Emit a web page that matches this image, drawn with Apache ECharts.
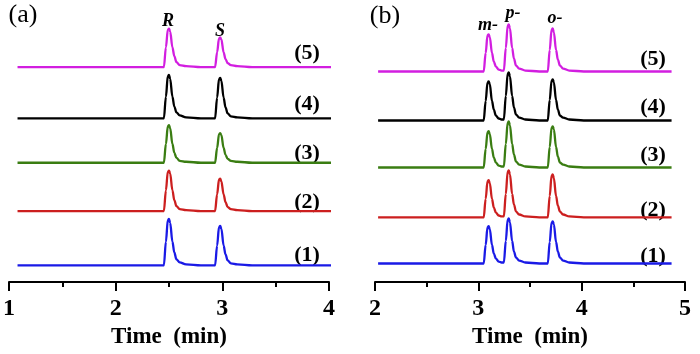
<!DOCTYPE html>
<html>
<head>
<meta charset="utf-8">
<script src="https://cdn.jsdelivr.net/npm/echarts@6/dist/echarts.min.js"></script>
<style>
  html, body { margin: 0; padding: 0; background: #fff; }
  #main { width: 700px; height: 354px; }
</style>
</head>
<body>
<div id="main"></div>
<script>
// panel (a): retention times (min), shared by all traces
var timeA = [1.08,
  2.452, 2.471, 2.489, 2.50, 2.511, 2.532, 2.55, 2.57, 2.6, 2.66, 2.8,
  2.932, 2.951, 2.969, 2.98, 2.991, 3.012, 3.03, 3.05, 3.08, 3.14, 3.28,
  4.02];
// detector signal for traces (1)..(5), R and S peaks
var sigA1 = [0, 0,24,46,47,43,24,13,6,3,1,0, 0,20,39,40,37,20,11,5,2,1,0, 0];
var sigA2 = [0, 0,21,40,41,38,21,11,5,2,1,0, 0,17,32,33,30,17,9,4,2,1,0, 0];
var sigA3 = [0, 0,19,37,38,35,19,10,5,2,1,0, 0,15,29,30,28,15,8,4,2,1,0, 0];
var sigA4 = [0, 0,22,43,44,40,22,12,6,3,1,0, 0,21,40,41,38,21,11,5,2,1,0, 0];
var sigA5 = [0, 0,20,38,39,36,20,11,5,2,1,0, 0,15,29,30,28,15,8,4,2,1,0, 0];

// panel (b): m-, p-, o- peaks
var timeB = [2.03,
  3.052, 3.071, 3.089, 3.10, 3.111, 3.132, 3.15, 3.17, 3.197, 3.225,
  3.247, 3.266, 3.284, 3.295, 3.306, 3.327, 3.345, 3.365, 3.395, 3.455, 3.59,
  3.672, 3.691, 3.709, 3.72, 3.731, 3.752, 3.77, 3.79, 3.82, 3.88, 4.02,
  4.87];
var sigB1 = [0, 0,19,37,38,35,19,10,5,2,1, 1,23,45,46,42,23,12,6,3,1,0, 0,22,42,43,40,22,12,6,3,1,0, 0];
var sigB2 = [0, 0,19,37,38,35,19,10,5,2,1, 1,24,47,48,44,24,13,6,3,1,0, 0,22,43,44,40,22,12,6,3,1,0, 0];
var sigB3 = [0, 0,19,36,37,34,19,10,5,2,1, 1,24,46,47,43,24,13,6,3,1,0, 0,21,41,42,39,21,11,5,3,1,0, 0];
var sigB4 = [0, 0,20,39,40,37,20,11,5,2,1, 1,25,48,49,45,25,13,6,3,1,0, 0,21,41,42,39,21,11,5,3,1,0, 0];
var sigB5 = [0, 0,19,37,38,35,19,10,5,2,1, 1,24,47,48,44,24,13,6,3,1,0, 0,22,43,44,40,22,12,6,3,1,0, 0];

var traceLabels = ['(1)', '(2)', '(3)', '(4)', '(5)'];
var colors = ['#1a1ae6', '#cc1f1f', '#3a7d12', '#000000', '#d21ee0'];
// vertical stacking offsets of the traces
var offsetA = [17, 72, 121, 166, 218];
var offsetB = [19, 66, 117, 165, 215];

var serif = '"Liberation Serif", "DejaVu Serif", serif';

function build(time, sig, off) {
  var d = [];
  for (var i = 0; i < time.length; i++) d.push([time[i], sig[i] + off]);
  return d;
}

var series = [];
var sigsA = [sigA1, sigA2, sigA3, sigA4, sigA5];
var sigsB = [sigB1, sigB2, sigB3, sigB4, sigB5];
for (var k = 0; k < 5; k++) {
  series.push({
    type: 'line', xAxisIndex: 0, yAxisIndex: 0,
    data: build(timeA, sigsA[k], offsetA[k]),
    showSymbol: false, smooth: 0.35, smoothMonotone: 'x', clip: false,
    lineStyle: { color: colors[k], width: 2.3 }, silent: true
  });
  series.push({
    type: 'line', xAxisIndex: 1, yAxisIndex: 1,
    data: build(timeB, sigsB[k], offsetB[k]),
    showSymbol: false, smooth: 0.35, smoothMonotone: 'x', clip: false,
    lineStyle: { color: colors[k], width: 2.3 }, silent: true
  });
}

function xAxis(idx, min, max) {
  return {
    type: 'value', gridIndex: idx, min: min, max: max, interval: 1,
    name: 'Time  (min)', nameLocation: 'middle', nameGap: 41,
    nameTextStyle: { fontFamily: serif, fontWeight: 'bold', fontSize: 23, color: '#000' },
    axisLine: { lineStyle: { color: '#000', width: 2 } },
    axisTick: { length: 9, lineStyle: { color: '#000', width: 2 } },
    minorTick: { show: true, splitNumber: 2, length: 5, lineStyle: { color: '#000', width: 2 } },
    axisLabel: { margin: 15, fontFamily: serif, fontWeight: 'bold', fontSize: 24, color: '#000' },
    splitLine: { show: false }
  };
}

function txt(x, y, s, size, italic, bold) {
  return {
    type: 'text', x: x, y: y,
    style: { text: s, fill: '#000', fontFamily: serif, fontWeight: bold ? 'bold' : 'normal',
             fontStyle: italic ? 'italic' : 'normal', fontSize: size,
             textAlign: 'center', textVerticalAlign: 'middle' }
  };
}
var graphic = [];
var labelYA = [255, 202, 153, 104, 53];
var labelYB = [256, 210, 155, 107, 59];
for (var j = 0; j < 5; j++) {
  graphic.push(txt(307, labelYA[j], traceLabels[j], 22, false, true));
  graphic.push(txt(653, labelYB[j], traceLabels[j], 22, false, true));
}
graphic.push(txt(23, 15, '(a)', 26, false, false));
graphic.push(txt(385, 16, '(b)', 26, false, false));
graphic.push(txt(168, 21, 'R', 18, true, true));
graphic.push(txt(220, 31, 'S', 18, true, true));
graphic.push(txt(488, 25, 'm-', 18, true, true));
graphic.push(txt(513, 13, 'p-', 18, true, true));
graphic.push(txt(555, 18, 'o-', 18, true, true));

var chart = echarts.init(document.getElementById('main'));
chart.setOption({
  animation: false,
  grid: [
    { left: 7.5, width: 321.5, top: 0, height: 286 },
    { left: 375, width: 310, top: 0, height: 288 }
  ],
  xAxis: [xAxis(0, 1, 4), xAxis(1, 2, 5)],
  yAxis: [
    { type: 'value', gridIndex: 0, min: 0, max: 286, show: false },
    { type: 'value', gridIndex: 1, min: 0, max: 288, show: false }
  ],
  series: series,
  graphic: graphic
});
</script>
</body>
</html>
